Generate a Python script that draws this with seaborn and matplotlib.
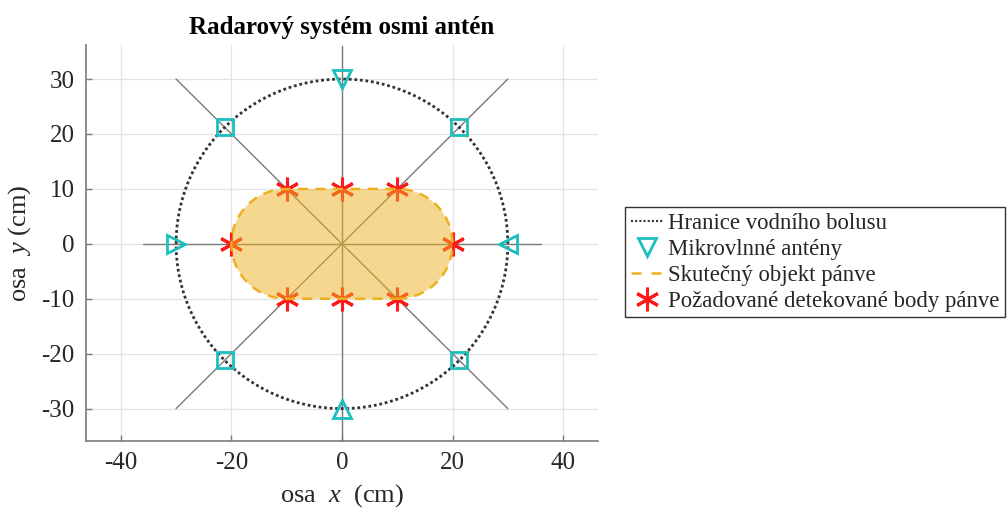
import numpy as np
import pandas as pd
import matplotlib
matplotlib.use("Agg")
import matplotlib.pyplot as plt
from matplotlib.lines import Line2D
import seaborn as sns

# ── Data ──────────────────────────────────────────────────────────────────────
BOLUS_RADIUS = 30
ANT_ANGLES_DEG = [0, 45, 90, 135, 180, 225, 270, 315]
ANT_MARKERS = ["<", "s", "v", "s", ">", "s", "^", "s"]

# lines through the centre (x0, y0, x1, y1)
RAY_LINES = [(-36, 0, 36, 0), (0, -36, 0, 36), (-30, -30, 30, 30), (-30, 30, 30, -30)]

# pelvis object: stadium, half-length of straight part and end radius
PELVIS_HALF = 10
PELVIS_R = 10

TARGET_X = [-10, 0, 10, -20, 20, -10, 0, 10]
TARGET_Y = [10, 10, 10, 0, 0, -10, -10, -10]

X_TICKS = [-40, -20, 0, 20, 40]
Y_TICKS = [-30, -20, -10, 0, 10, 20, 30]

LABELS = ["Hranice vodního bolusu", "Mikrovlnné antény",
          "Skutečný objekt pánve", "Požadované detekované body pánve"]

CYAN = "#1CBFBF"
ORANGE = "#EDB120"
RED = "#FF1A1A"

# ── Style ─────────────────────────────────────────────────────────────────────
sns.set_theme(style="whitegrid")
plt.rcParams["font.family"] = ["Liberation Serif", "DejaVu Serif"]
plt.rcParams["mathtext.fontset"] = "custom"
plt.rcParams["mathtext.rm"] = "Liberation Serif"
plt.rcParams["mathtext.it"] = "Liberation Serif:italic"
plt.rcParams["axes.unicode_minus"] = False

fig = plt.figure(figsize=(10.08, 5.15), dpi=100)
ax = fig.add_axes([0.0853, 0.1437, 0.5079, 0.7689])
ax.set_facecolor("white")

# ── Bolus boundary ────────────────────────────────────────────────────────────
t = np.linspace(0, 2 * np.pi, 400)
circle = pd.DataFrame({"x": BOLUS_RADIUS * np.cos(t), "y": BOLUS_RADIUS * np.sin(t)})
sns.lineplot(data=circle, x="x", y="y", sort=False, estimator=None, ax=ax,
             color="#333333", linestyle=(0, (1, 1)), linewidth=2, zorder=3)

# ── Rays ──────────────────────────────────────────────────────────────────────
for x0, y0, x1, y1 in RAY_LINES:
    ray = pd.DataFrame({"x": [x0, x1], "y": [y0, y1]})
    sns.lineplot(data=ray, x="x", y="y", sort=False, estimator=None, ax=ax,
                 color="#7a7a7a", linewidth=1, zorder=2)

# ── Targets (under the fill) ──────────────────────────────────────────────────
targets = pd.DataFrame({"x": TARGET_X, "y": TARGET_Y})
ax.plot(targets["x"], targets["y"], linestyle="none", marker=(6, 2, 0),
        markersize=17, markeredgewidth=2.2, color=RED, zorder=4)

# ── Pelvis stadium ────────────────────────────────────────────────────────────
a_r = np.linspace(-np.pi / 2, np.pi / 2, 100)
a_l = np.linspace(np.pi / 2, 3 * np.pi / 2, 100)
sx = np.concatenate([PELVIS_HALF + PELVIS_R * np.cos(a_r), -PELVIS_HALF + PELVIS_R * np.cos(a_l)])
sy = np.concatenate([PELVIS_R * np.sin(a_r), PELVIS_R * np.sin(a_l)])
sx = np.append(sx, sx[0])
sy = np.append(sy, sy[0])
ax.fill(sx, sy, color=ORANGE, alpha=0.5, linewidth=0, zorder=5)
pelvis = pd.DataFrame({"x": sx, "y": sy})
sns.lineplot(data=pelvis, x="x", y="y", sort=False, estimator=None, ax=ax,
             color=ORANGE, linestyle=(0, (4, 3)), linewidth=1.8, zorder=6)

# ── Antennas ──────────────────────────────────────────────────────────────────
ang = np.deg2rad(ANT_ANGLES_DEG)
ants = pd.DataFrame({"x": BOLUS_RADIUS * np.cos(ang), "y": BOLUS_RADIUS * np.sin(ang),
                     "m": ANT_MARKERS})
for _, r in ants.iterrows():
    size = 11 if r["m"] == "s" else 13
    ax.plot([r["x"]], [r["y"]], linestyle="none", marker=r["m"], markersize=size,
            markerfacecolor="none", markeredgecolor=CYAN, markeredgewidth=2, zorder=7)

# ── Axes ──────────────────────────────────────────────────────────────────────
ax.set_xlim(-46.3, 46.3)
ax.set_ylim(-35.9, 36.2)
ax.set_xticks(X_TICKS)
ax.set_yticks(Y_TICKS)
ax.grid(True, color="#e3e3e3", linewidth=0.9)
ax.set_axisbelow(True)
for side in ["top", "right"]:
    ax.spines[side].set_visible(False)
for side in ["left", "bottom"]:
    ax.spines[side].set_color("#7a7a7a")
    ax.spines[side].set_linewidth(1.2)
ax.tick_params(direction="in", length=4, width=1, color="#7a7a7a",
               labelsize=18, labelcolor="#262626", left=True, bottom=True, pad=8)
ax.set_xlabel("osa  $x$  (cm)", fontsize=19, color="#262626", labelpad=6)
ax.set_ylabel("osa  $y$ (cm)", fontsize=19, color="#262626", labelpad=6)
ax.set_title("Radarový systém osmi antén", fontsize=18, fontweight="bold",
             color="black", pad=8)

# ── Legend ────────────────────────────────────────────────────────────────────
handles = [
    Line2D([], [], color="#333333", linestyle=(0, (1, 1)), linewidth=1.5),
    Line2D([], [], linestyle="none", marker="v", markersize=13,
           markerfacecolor="none", markeredgecolor=CYAN, markeredgewidth=2),
    Line2D([], [], color=ORANGE, linestyle=(0, (4, 4)), linewidth=1.8),
    Line2D([], [], linestyle="none", marker=(6, 2, 0), markersize=17,
           markeredgewidth=2.2, color=RED),
]
leg = fig.legend(handles, LABELS, loc="upper left", bbox_to_anchor=(0.62, 0.598),
                 fontsize=16.4, frameon=True, fancybox=False, framealpha=1,
                 edgecolor="#333333", handlelength=1.4, handletextpad=0.25,
                 labelspacing=0.22, borderpad=0.25, borderaxespad=0)
leg.get_frame().set_linewidth(1)

fig.savefig("out.png", dpi=100)
